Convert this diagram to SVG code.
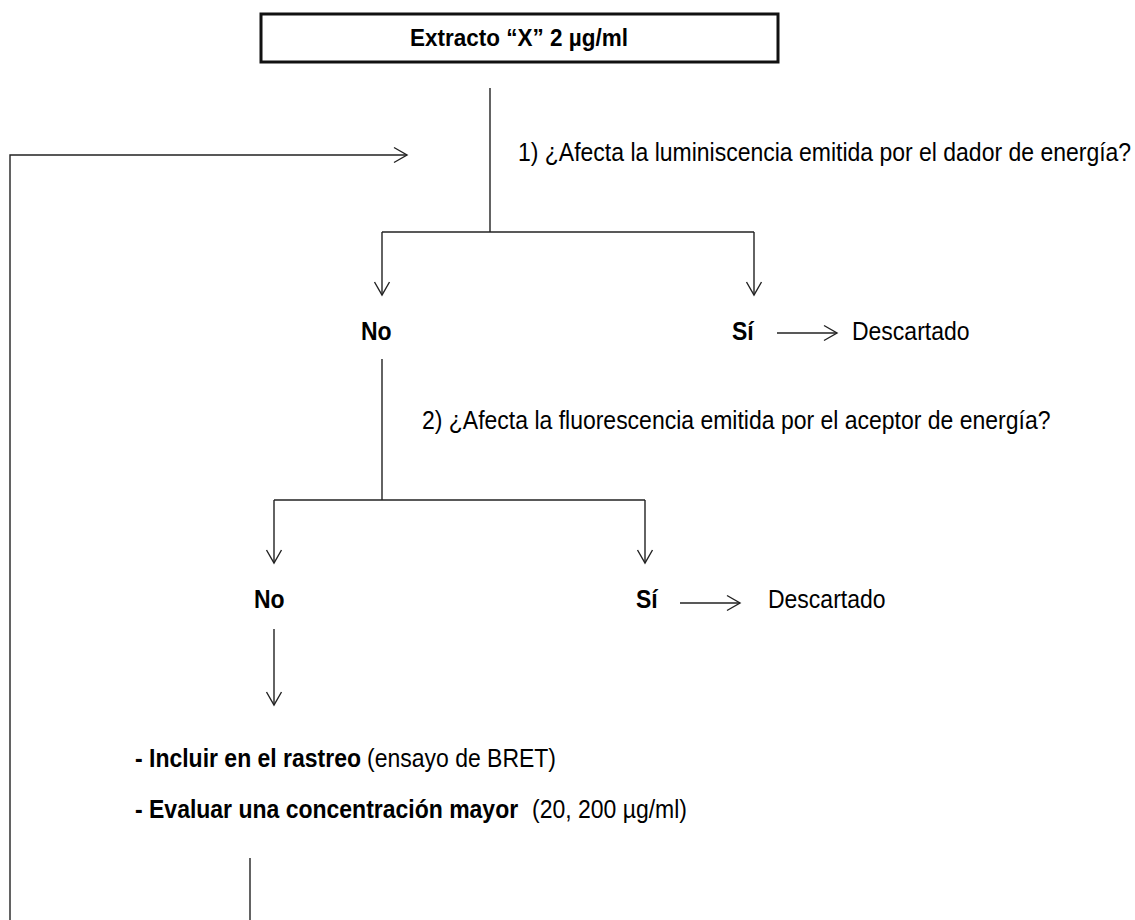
<svg xmlns="http://www.w3.org/2000/svg" width="1135" height="920" viewBox="0 0 1135 920">
<style>
text{font-family:"Liberation Sans",Arial,sans-serif;font-size:23px;fill:#000}
.b{font-weight:bold}
.ln{fill:none;stroke:#222;stroke-width:1.4}
.box{fill:#fff;stroke:#111;stroke-width:3}
</style>
<defs>
<marker id="ah" markerUnits="userSpaceOnUse" markerWidth="20" markerHeight="20" viewBox="-15 -10 20 20" refX="0" refY="0" orient="auto">
<path d="M-13,-7.5 L0,0 L-13,7.5" fill="none" stroke="#222" stroke-width="1.4"/>
</marker>
</defs>
<rect width="1135" height="920" fill="#fff"/>
<g id="connectors">
<path class="ln" d="M490,88 V232"/>
<path class="ln" d="M382,232 H754"/>
<path class="ln" d="M382,232 V295" marker-end="url(#ah)"/>
<path class="ln" d="M754,232 V295" marker-end="url(#ah)"/>
<path class="ln" d="M777,333 H837" marker-end="url(#ah)"/>
<path class="ln" d="M382,359 V500"/>
<path class="ln" d="M274,500 H645"/>
<path class="ln" d="M274,500 V563" marker-end="url(#ah)"/>
<path class="ln" d="M645,500 V563" marker-end="url(#ah)"/>
<path class="ln" d="M680,603 H740" marker-end="url(#ah)"/>
<path class="ln" d="M274,629 V705" marker-end="url(#ah)"/>
<path class="ln" d="M250,858 V920"/>
<path class="ln" d="M10,920 V155 H407" marker-end="url(#ah)"/>
</g>
<g id="extracto">
<rect class="box" x="261" y="14" width="517" height="48"/>
<text class="b" x="519" y="46" text-anchor="middle" style="font-size:22.5px" transform="matrix(1,0,0,1.1,0,-4.6)">Extracto “X” 2 µg/ml</text>
</g>
<g id="pregunta1"><text x="518" y="161" transform="matrix(1,0,0,1.1,0,-16.1)">1) ¿Afecta la luminiscencia emitida por el dador de energía?</text></g>
<g id="no1"><text class="b" x="361" y="340" transform="matrix(1,0,0,1.1,0,-34)">No</text></g>
<g id="si1"><text class="b" x="732" y="340" transform="matrix(1,0,0,1.1,0,-34)">Sí</text></g>
<g id="descartado1"><text x="852" y="340" transform="matrix(1,0,0,1.1,0,-34)">Descartado</text></g>
<g id="pregunta2"><text x="422" y="429" transform="matrix(1,0,0,1.1,0,-42.9)">2) ¿Afecta la fluorescencia emitida por el aceptor de energía?</text></g>
<g id="no2"><text class="b" x="254" y="608" transform="matrix(1,0,0,1.1,0,-60.8)">No</text></g>
<g id="si2"><text class="b" x="636" y="608" transform="matrix(1,0,0,1.1,0,-60.8)">Sí</text></g>
<g id="descartado2"><text x="768" y="608" transform="matrix(1,0,0,1.1,0,-60.8)">Descartado</text></g>
<g id="resultado">
<text x="135" y="767" transform="matrix(1,0,0,1.1,0,-76.7)"><tspan class="b">- Incluir en el rastreo</tspan><tspan x="367">(ensayo de BRET)</tspan></text>
<text x="135" y="818" transform="matrix(1,0,0,1.1,0,-81.8)"><tspan class="b">- Evaluar una concentración mayor</tspan><tspan x="532">(20, 200 µg/ml)</tspan></text>
</g>
</svg>
